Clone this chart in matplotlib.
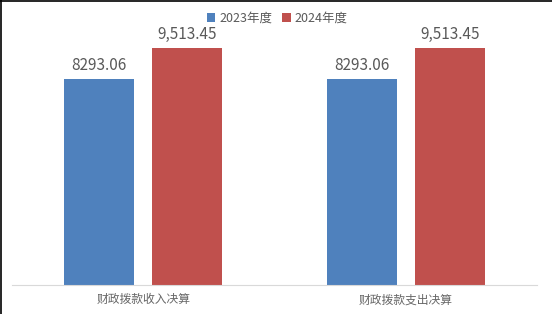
import numpy as np
import matplotlib.pyplot as plt

plt.rcParams['font.family'] = ['Noto Sans CJK SC', 'DejaVu Sans']

categories = ["财政拨款收入决算", "财政拨款支出决算"]
series_names = ["2023年度", "2024年度"]
values_2023 = [8293.06, 8293.06]
values_2024 = [9513.45, 9513.45]
labels_2023 = ["8293.06", "8293.06"]
labels_2024 = ["9,513.45", "9,513.45"]

colors = ["#4F81BD", "#C0504D"]
txt = "#595959"

W, H = 552, 314
fig = plt.figure(figsize=(W / 100, H / 100), dpi=100)
ax = fig.add_axes([12 / W, 1 - 285 / H, (537 - 12) / W, (285 - 36) / H])

x = np.arange(len(categories))
bw = 0.267
off = 0.168
b1 = ax.bar(x - off, values_2023, bw, color=colors[0], label=series_names[0])
b2 = ax.bar(x + off, values_2024, bw, color=colors[1], label=series_names[1])

for bars, labs in [(b1, labels_2023), (b2, labels_2024)]:
    for b, lab in zip(bars, labs):
        ax.annotate(lab, (b.get_x() + b.get_width() / 2, b.get_height()),
                    xytext=(0, 3.5), textcoords="offset points",
                    ha="center", va="bottom", fontsize=11, color=txt)

ax.set_xlim(-0.5, len(categories) - 0.5)
ax.set_ylim(0, 10000)
ax.set_xticks(x)
ax.set_xticklabels(categories, fontsize=8.5, color="#666666")
ax.tick_params(axis="x", length=0, pad=6)
ax.set_yticks([])
for s in ["top", "right", "left"]:
    ax.spines[s].set_visible(False)
ax.spines["bottom"].set_color("#D9D9D9")

leg = fig.legend(handles=[b1, b2], loc="center", bbox_to_anchor=(277 / W, 1 - 18 / H),
                 ncol=2, frameon=False, fontsize=9, handlelength=0.7, handleheight=0.7,
                 handletextpad=0.3, columnspacing=0.8, borderpad=0)
for t in leg.get_texts():
    t.set_color(txt)

# left/top border
fig.add_artist(plt.Line2D([0.5 / W, 0.5 / W], [0, 1], color="black", lw=1.2))
fig.add_artist(plt.Line2D([0, 1], [1 - 0.5 / H, 1 - 0.5 / H], color="black", lw=1.2))

fig.savefig("out.png", dpi=100)
